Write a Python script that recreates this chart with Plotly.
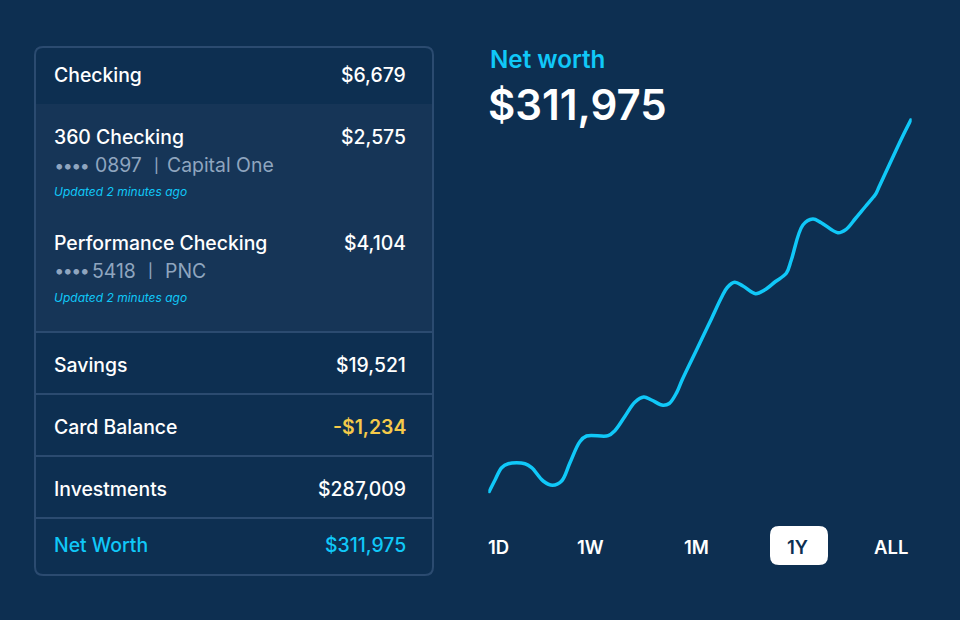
import plotly.graph_objects as go

W, H = 960, 620
BG = "#0d2f51"
PANEL = "#163557"
BORDER = "#2b4b70"
CYAN = "#10c8f8"
YELLOW = "#f5ca4a"
GREY = "#8fa5bf"
WHITE = "#ffffff"
FONT = "Inter"

# net worth curve
days = [0, 5.8, 11.5, 17.2, 31.6, 37.4, 47.3, 55.4, 63.2, 70.3, 78.9, 84.7, 103.3, 109.1,
        117.7, 126.3, 134, 140.7, 150.6, 156, 162.5, 166.7, 175.3, 183.9, 192.5, 201, 206,
        212.4, 219.5, 230.4, 238.1, 247.6, 256.9, 261.2, 271.2, 279.8, 287, 301.3, 308.5,
        316.5, 325.1, 332, 334.3, 336.7, 341.4, 349.2, 356.9, 365]
net_worth = [124475, 131125, 137275, 139275, 139275, 137275, 130625, 128475, 130625, 139625,
             150275, 153125, 153275, 155775, 162875, 169975, 172625, 171125, 168475, 169375,
             174975, 180625, 191125, 201475, 211925, 222375, 227375, 229975, 228125, 224275,
             226125, 230375, 234475, 241125, 258625, 261625, 259775, 254775, 256475, 261875,
             267875, 272625, 274475, 277475, 283375, 293125, 302625, 311975]

# table
main_labels = ["Checking", "Savings", "Card Balance", "Investments", "Net Worth"]
main_values = ["$6,679", "$19,521", "-$1,234", "$287,009", "$311,975"]
sub_labels = ["360 Checking", "Performance Checking"]
sub_values = ["$2,575", "$4,104"]
sub_masks = ["0897", "5418"]
sub_banks = ["Capital One", "PNC"]
updated = "Updated 2 minutes ago"

ranges = ["1D", "1W", "1M", "1Y", "ALL"]


def fx(x):
    return x / W


def fy(y):
    return 1 - y / H


def rounded_rect(x0, y0, x1, y1, r):
    p = [
        f"M{fx(x0 + r)},{fy(y0)}", f"L{fx(x1 - r)},{fy(y0)}", f"Q{fx(x1)},{fy(y0)} {fx(x1)},{fy(y0 + r)}",
        f"L{fx(x1)},{fy(y1 - r)}", f"Q{fx(x1)},{fy(y1)} {fx(x1 - r)},{fy(y1)}",
        f"L{fx(x0 + r)},{fy(y1)}", f"Q{fx(x0)},{fy(y1)} {fx(x0)},{fy(y1 - r)}",
        f"L{fx(x0)},{fy(y0 + r)}", f"Q{fx(x0)},{fy(y0)} {fx(x0 + r)},{fy(y0)}", "Z",
    ]
    return "".join(p)


def label(fig, x, y, text, size=19.4, color=WHITE, anchor="left", weight=500, style="normal"):
    fig.add_annotation(
        x=fx(x), y=fy(y), xref="paper", yref="paper", text=text, showarrow=False,
        xanchor=anchor, yanchor="middle", borderpad=0, borderwidth=0,
        font=dict(family=FONT, size=size, color=color, weight=weight, style=style),
    )


fig = go.Figure()
fig.add_trace(go.Scatter(
    x=days, y=net_worth, mode="lines",
    line=dict(color=CYAN, width=3.5, shape="spline", smoothing=1.0),
    hoverinfo="skip", showlegend=False,
))

# card and rows
fig.add_shape(type="rect", xref="paper", yref="paper", x0=fx(35), x1=fx(433), y0=fy(104), y1=fy(332),
              fillcolor=PANEL, line_width=0, layer="below")
fig.add_shape(type="path", xref="paper", yref="paper", path=rounded_rect(35, 47, 433, 575, 8),
              fillcolor="rgba(0,0,0,0)", line=dict(color=BORDER, width=2), layer="below")
for yy in [332, 394, 456, 518]:
    fig.add_shape(type="line", xref="paper", yref="paper", x0=fx(35), x1=fx(433), y0=fy(yy), y1=fy(yy),
                  line=dict(color=BORDER, width=2), layer="below")

main_y = [75, 365, 427, 489, 545]
for name, val, yy in zip(main_labels, main_values, main_y):
    c = CYAN if name == "Net Worth" else WHITE
    label(fig, 54, yy, name, color=c)
    if val.startswith("-"):
        label(fig, 406, yy, val, color=YELLOW, anchor="right", weight=600)
    else:
        label(fig, 406, yy, val, color=c, anchor="right")

# expanded accounts
sub_y = [137, 243]
mask_x = [95, 92]
bar_x = [154, 148]
bank_x = [167, 165]
for i, yy in enumerate(sub_y):
    label(fig, 54, yy, sub_labels[i])
    label(fig, 406, yy, sub_values[i], anchor="right")
    label(fig, 55, yy + 28, "••••", size=18, color=GREY, weight=700)
    label(fig, mask_x[i], yy + 28, sub_masks[i], color=GREY, weight=400)
    label(fig, bar_x[i], yy + 28, "|", size=14, color=GREY, weight=500)
    label(fig, bank_x[i], yy + 28, sub_banks[i], color=GREY, weight=400)
    label(fig, 54, yy + 54, updated, size=12, color=CYAN, weight=400, style="italic")

# header
label(fig, 490, 59, "Net worth", size=24.2, color=CYAN, weight=600)
label(fig, 488, 105, "$311,975", size=42, weight=600)

# range buttons
fig.add_shape(type="path", xref="paper", yref="paper", path=rounded_rect(770, 526, 828, 565, 9),
              fillcolor=WHITE, line_width=0, layer="below")
for txt, xx in zip(ranges, [498.5, 590.5, 696, 797, 890.5]):
    label(fig, xx, 547, txt, size=18.5, color=BG if txt == "1Y" else WHITE, anchor="center", weight=600)

fig.update_layout(
    width=W, height=H, margin=dict(l=0, r=0, t=0, b=0),
    paper_bgcolor=BG, plot_bgcolor="rgba(0,0,0,0)", showlegend=False,
    xaxis=dict(domain=[fx(488.3), fx(911.7)], range=[0, 365], visible=False, fixedrange=True),
    yaxis=dict(domain=[fy(493.3), fy(118.3)], range=[124475, 311975], visible=False, fixedrange=True),
)
fig.update_traces(cliponaxis=False)

# page has a default 8px body margin, drop it so the figure fills the window
fig.write_html("out.html", config=dict(displayModeBar=False),
               post_script="document.body.style.margin='0';document.body.style.overflow='hidden';")
